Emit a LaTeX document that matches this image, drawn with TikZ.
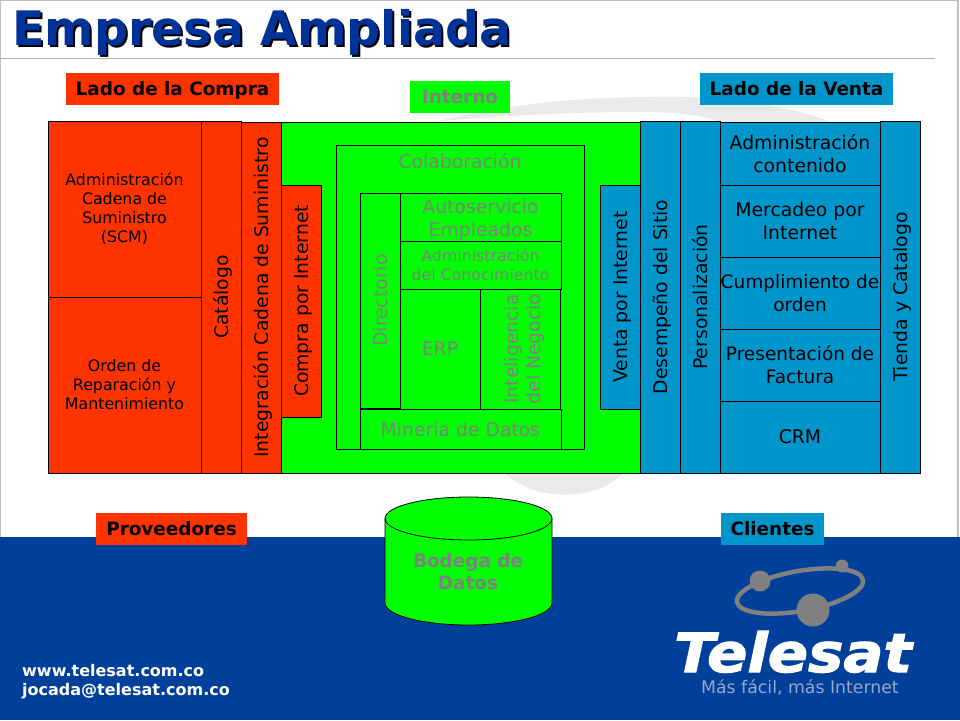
\documentclass[tikz,border=0pt]{standalone}
\usepackage{fontspec}
\setmainfont{DejaVu Sans}
\newfontfamily\logofont[BoldItalicFeatures={FakeBold=2}]{DejaVu Sans}
\usepackage{xcolor}
\usetikzlibrary{positioning}

\definecolor{compra}{HTML}{FF3300}
\definecolor{interno}{HTML}{00FF00}
\definecolor{venta}{HTML}{0096CB}
\definecolor{fondo}{HTML}{00409A}
\definecolor{titulo}{HTML}{003399}
\definecolor{arco}{HTML}{EAEAEA}
\definecolor{lema}{HTML}{9AA6C8}
\definecolor{texto}{HTML}{808080}

\begin{document}
\begin{tikzpicture}[x=1pt, y=-1pt, node distance=0pt]
    \tikzstyle{cell}=[rectangle, draw=black, line width=0.8pt, inner sep=0pt, outer sep=0pt, align=center, font=\fontsize{18.8}{23}\selectfont]
    \tikzstyle{upright}=[cell, rotate=90, text height=14pt, text depth=0pt]
    \tikzstyle{buy}=[fill=compra, text=black]
    \tikzstyle{sell}=[fill=venta, text=black]
    \tikzstyle{core}=[fill=interno, text=texto]
    \tikzstyle{tag}=[rectangle, inner sep=0pt, outer sep=0pt, minimum height=32pt, text height=13pt, text depth=0pt, font=\fontsize{18.4}{22}\selectfont\bfseries]
    \tikzstyle{foot}=[inner sep=0pt, anchor=base west, text=white, font=\fontsize{16}{20}\selectfont\bfseries]

    \useasboundingbox (0,0) rectangle (960,720);

    % background
    \fill[white] (0,0) rectangle (960,720);
    \draw[black!25, line width=1.5pt] (0,537) -- (0,0) -- (958,0) -- (958,537);
    \draw[black!30, line width=1pt] (0,58) -- (935,58);
    \fill[arco] (440,121) .. controls (500,105) and (580,97) .. (650,97)
        .. controls (720,95) and (790,105) .. (830,122) -- (720,122)
        .. controls (700,114) and (670,112) .. (640,112)
        .. controls (570,112) and (500,116) .. (440,121) -- cycle;
    \fill[arco] (503,470) .. controls (530,503) and (600,503) .. (625,470) -- cycle;
    \fill[fondo] (0,537) rectangle (960,720);

    % title
    \node[inner sep=0pt, anchor=base west, text=black, font=\fontsize{47.5}{50}\selectfont\bfseries] (sombra) at (14,47) {Empresa Ampliada};
    \node[inner sep=0pt, anchor=base west, text=titulo, font=\fontsize{47.5}{50}\selectfont\bfseries] (titulo) at (12,45) {Empresa Ampliada};

    % tags
    \node[tag, buy, minimum width=213pt] (ladocompra) at (172.5,89) {Lado de la Compra};
    \node[tag, core, minimum width=100pt] (ladointerno) at (460,97) {Interno};
    \node[tag, sell, minimum width=193pt] (ladoventa) at (796.5,89) {Lado de la Venta};
    \node[tag, buy, minimum width=151pt] (proveedores) at (171.5,529) {Proveedores};
    \node[tag, sell, minimum width=103pt] (clientes) at (772.5,529) {Clientes};

    % buy side
    \node[cell, buy, minimum width=153pt, minimum height=176pt, font=\fontsize{15.8}{19}\selectfont] (scm) at (124.5,209) {Administración\\Cadena de\\Suministro\\(SCM)};
    \node[cell, buy, minimum width=153pt, minimum height=176pt, font=\fontsize{15.8}{19}\selectfont, below=of scm] (orden) {Orden de\\Reparación y\\Mantenimiento};
    \node[upright, buy, minimum width=352pt, minimum height=40pt] (catalogo) at (221,297) {Catálogo};

    % internal
    \node[cell, core, minimum width=359pt, minimum height=351pt] (interno) at (460.5,297.5) {};
    \node[upright, buy, minimum width=351pt, minimum height=40pt] (cadena) at (261,297.5) {Integración Cadena de Suministro};
    \node[upright, buy, minimum width=232pt, minimum height=40pt] (compra) at (301,301) {Compra por Internet};
    \node[cell, core, minimum width=248pt, minimum height=304pt] (colabora) at (460,297) {};
    \node[core, inner sep=0pt, font=\fontsize{18.8}{23}\selectfont] (colaboratxt) at (460,161) {Colaboración};
    \node[cell, core, minimum width=161pt, minimum height=48pt] (autoservicio) at (480.5,217) {\raisebox{-2.5pt}[14pt][4pt]{Autoservicio}\\\raisebox{-2.5pt}[14pt][4pt]{Empleados}};
    \node[cell, core, minimum width=161pt, minimum height=48pt, font=\fontsize{15.8}{19}\selectfont, below=of autoservicio] (conocimiento) {Administración\\del Conocimiento};
    \node[upright, core, minimum width=215pt, minimum height=40pt] (directorio) at (380,300.5) {Directorio};
    \node[cell, core, minimum width=80pt, minimum height=120pt] (erp) at (440,349) {ERP};
    \node[cell, rotate=90, core, minimum width=120pt, minimum height=80pt, font=\fontsize{18.8}{22}\selectfont] (negocio) at (520,349) {\raisebox{-4pt}[14pt][4pt]{Inteligencia}\\\raisebox{-4pt}[14pt][4pt]{del Negocio}};
    \node[cell, core, minimum width=201pt, minimum height=40pt] (mineria) at (460.5,429) {Minería de Datos};
    \node[upright, sell, minimum width=224pt, minimum height=40pt] (ventaweb) at (620,297) {Venta por Internet};

    % sell side
    \node[upright, sell, minimum width=352pt, minimum height=40pt] (desempeno) at (660,297) {Desempeño del Sitio};
    \node[upright, sell, minimum width=352pt, minimum height=40pt] (personal) at (700,297) {Personalización};
    \node[cell, sell, minimum width=160pt, minimum height=63pt] (contenido) at (800,153.5) {Administración\\contenido};
    \node[cell, sell, minimum width=160pt, minimum height=72pt, below=of contenido] (mercadeo) {Mercadeo por\\Internet};
    \node[cell, sell, minimum width=160pt, minimum height=72pt, font=\fontsize{18.5}{23}\selectfont, below=of mercadeo] (cumple) {Cumplimiento de\\orden};
    \node[cell, sell, minimum width=160pt, minimum height=72pt, font=\fontsize{18.5}{23}\selectfont, below=of cumple] (factura) {Presentación de\\Factura};
    \node[cell, sell, minimum width=160pt, minimum height=72pt, below=of factura] (crm) {CRM};
    \node[upright, sell, minimum width=352pt, minimum height=40pt] (tienda) at (900,297) {Tienda y Catalogo};

    % warehouse
    \draw[fill=interno, line width=0.8pt] (385,518.5) -- (385,603) arc[start angle=180, end angle=360, x radius=83.5pt, y radius=22pt] -- (552,518.5) arc[start angle=0, end angle=180, x radius=83.5pt, y radius=21.5pt] -- cycle;
    \draw[line width=0.8pt] (385,518.5) arc[start angle=180, end angle=360, x radius=83.5pt, y radius=21.5pt];
    \node[inner sep=0pt, align=center, text=texto, font=\fontsize{18.4}{22}\selectfont\bfseries] (bodega) at (468,572) {Bodega de\\Datos};

    % footer
    \node[foot] (web) at (22,676) {www.telesat.com.co};
    \node[foot] (correo) at (22,695) {jocada@telesat.com.co};

    % logo
    \draw[texto, line width=4.5pt, rotate around={10:(800,591)}] (800,591) ellipse (64pt and 20pt);
    \fill[texto] (760,581) circle (10.5pt);
    \fill[texto] (842,566) circle (6.5pt);
    \fill[texto] (813,610) circle (16.5pt);
    \node[inner sep=0pt, anchor=base west, text=white, xscale=1.1, font=\logofont\fontsize{54}{54}\selectfont\bfseries\itshape] (telesat) at (674,672) {Telesat};
    \node[inner sep=0pt, anchor=base west, text=lema, font=\fontsize{17.3}{18}\selectfont] (lema) at (701,693) {Más fácil, más Internet};
\end{tikzpicture}
\end{document}
